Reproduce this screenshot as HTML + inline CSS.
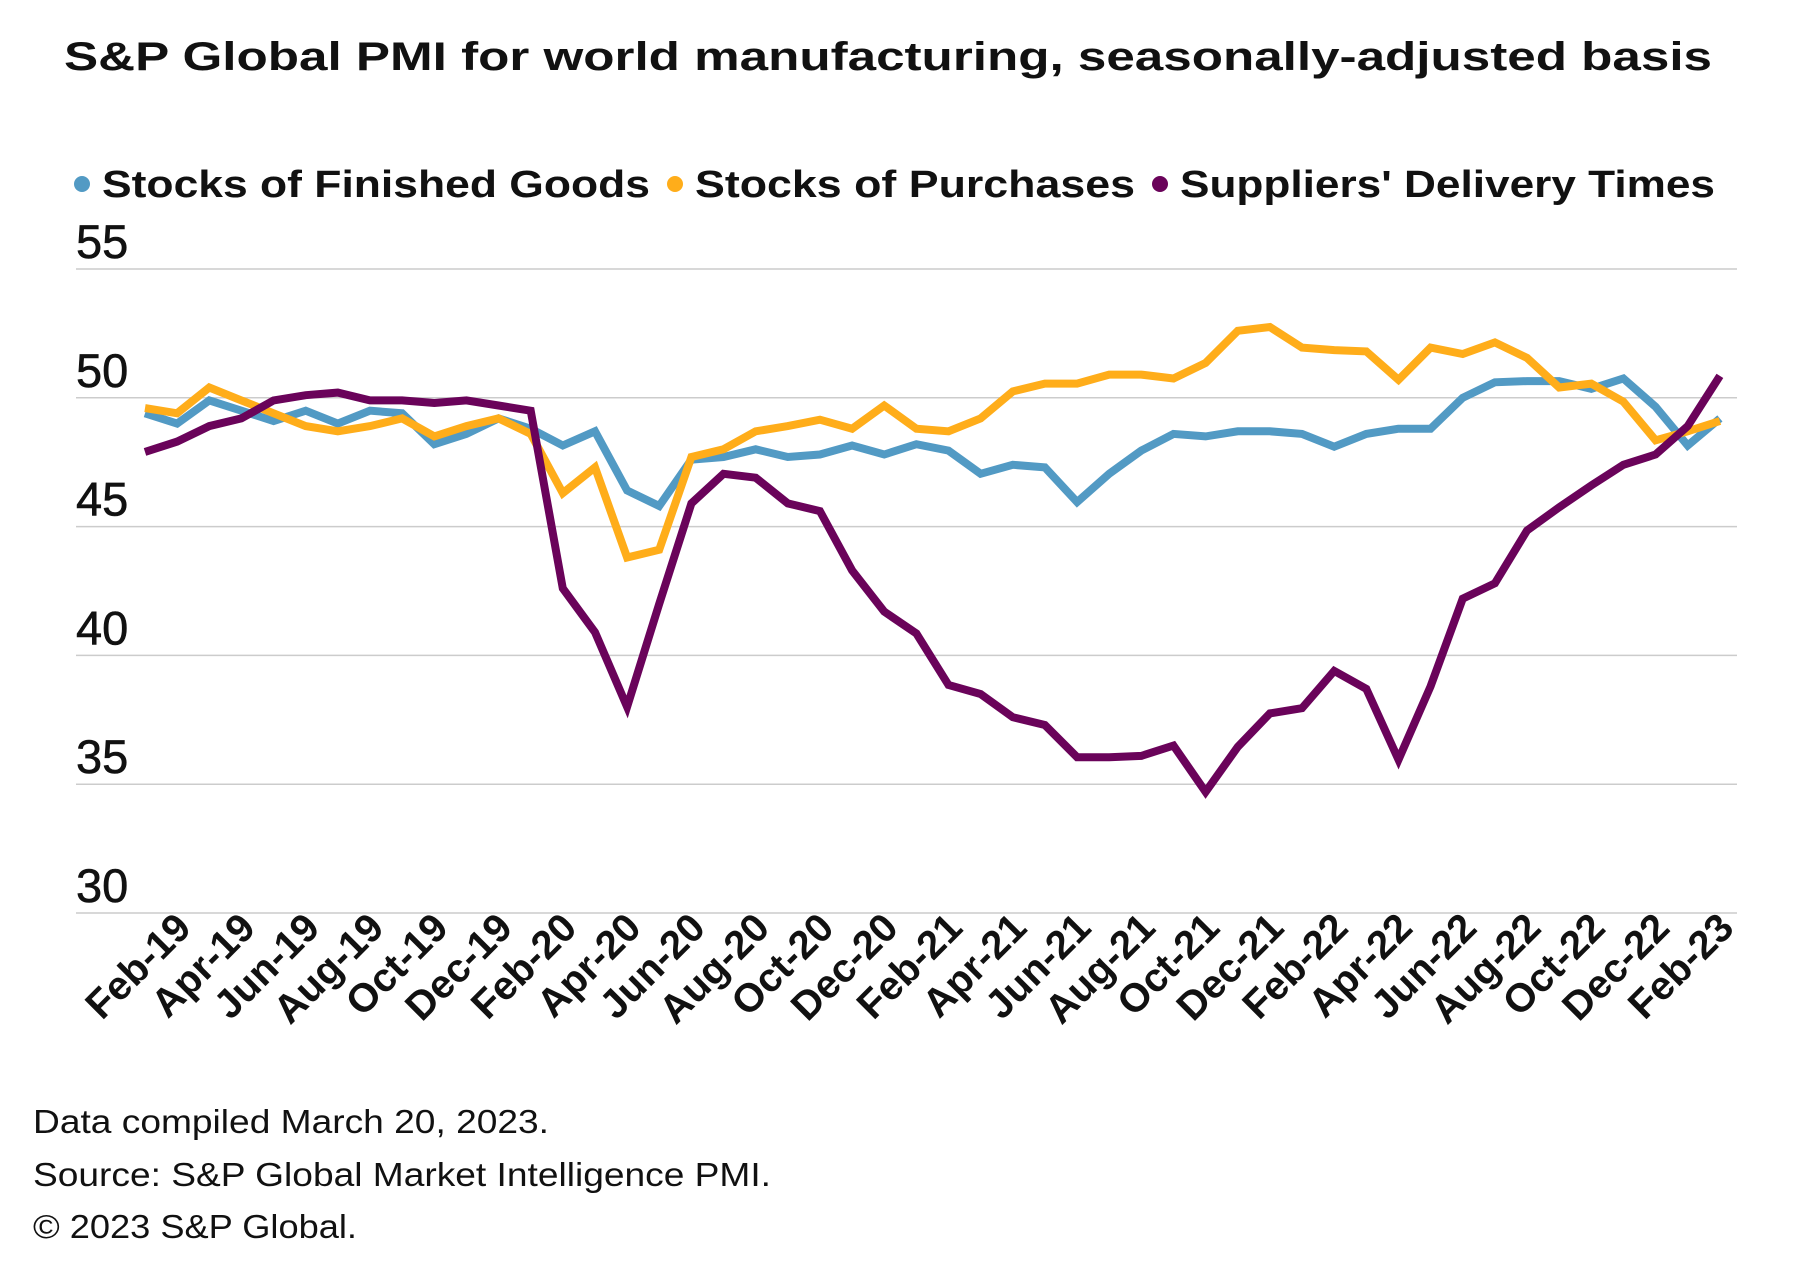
<!DOCTYPE html>
<html><head><meta charset="utf-8"><style>
html,body{margin:0;padding:0;background:#fff;}
svg{display:block;font-family:"Liberation Sans",sans-serif;}
</style></head><body>
<svg id="chart" width="1811" height="1278" viewBox="0 0 1811 1278">
<text x="64" y="70" font-size="40" font-weight="bold" fill="#111" textLength="1648" lengthAdjust="spacingAndGlyphs">S&amp;P Global PMI for world manufacturing, seasonally-adjusted basis</text>
<g>
<g><circle cx="82" cy="184" r="8" fill="#529ac4"/><text x="102" y="197" font-size="38" font-weight="bold" fill="#111" textLength="548" lengthAdjust="spacingAndGlyphs">Stocks of Finished Goods</text></g>
<g><circle cx="675" cy="184" r="8" fill="#ffad1a"/><text x="695" y="197" font-size="38" font-weight="bold" fill="#111" textLength="440" lengthAdjust="spacingAndGlyphs">Stocks of Purchases</text></g>
<g><circle cx="1160" cy="184" r="8" fill="#6a035a"/><text x="1180" y="197" font-size="38" font-weight="bold" fill="#111" textLength="535" lengthAdjust="spacingAndGlyphs">Suppliers' Delivery Times</text></g>
</g>
<g id="grid"></g>
<g id="yaxis"></g>
<g id="xaxis"></g>
<g id="series"></g>
<g font-size="33" fill="#111">
<text x="33" y="1133" textLength="516" lengthAdjust="spacingAndGlyphs">Data compiled March 20, 2023.</text>
<text x="33" y="1186" textLength="738" lengthAdjust="spacingAndGlyphs">Source: S&amp;P Global Market Intelligence PMI.</text>
<text x="33" y="1238" textLength="324" lengthAdjust="spacingAndGlyphs">© 2023 S&amp;P Global.</text>
</g>
</svg>
<script>
const months = ["Jan-19","Feb-19","Mar-19","Apr-19","May-19","Jun-19","Jul-19","Aug-19","Sep-19","Oct-19","Nov-19","Dec-19","Jan-20","Feb-20","Mar-20","Apr-20","May-20","Jun-20","Jul-20","Aug-20","Sep-20","Oct-20","Nov-20","Dec-20","Jan-21","Feb-21","Mar-21","Apr-21","May-21","Jun-21","Jul-21","Aug-21","Sep-21","Oct-21","Nov-21","Dec-21","Jan-22","Feb-22","Mar-22","Apr-22","May-22","Jun-22","Jul-22","Aug-22","Sep-22","Oct-22","Nov-22","Dec-22","Jan-23","Feb-23"];
const finishedGoods = [49.4,49.0,49.9,49.5,49.1,49.5,49.0,49.5,49.4,48.2,48.6,49.2,48.8,48.15,48.7,46.4,45.8,47.6,47.7,48.0,47.7,47.8,48.15,47.8,48.2,47.95,47.05,47.4,47.3,45.95,47.05,47.95,48.6,48.5,48.7,48.7,48.6,48.1,48.6,48.8,48.8,50.0,50.6,50.65,50.65,50.35,50.75,49.65,48.15,49.2];
const purchases = [49.6,49.4,50.4,49.9,49.4,48.9,48.7,48.9,49.2,48.5,48.9,49.2,48.6,46.3,47.3,43.8,44.1,47.7,48.0,48.7,48.9,49.15,48.8,49.7,48.8,48.7,49.2,50.25,50.55,50.55,50.9,50.9,50.75,51.35,52.6,52.75,51.95,51.85,51.8,50.7,51.95,51.7,52.15,51.55,50.4,50.55,49.85,48.35,48.7,49.1];
const deliveryTimes = [47.9,48.3,48.9,49.2,49.9,50.1,50.2,49.9,49.9,49.8,49.9,49.7,49.5,42.6,40.9,38.0,42.0,45.9,47.05,46.9,45.9,45.6,43.3,41.7,40.85,38.85,38.5,37.6,37.3,36.05,36.05,36.1,36.5,34.7,36.45,37.75,37.95,39.4,38.7,35.95,38.8,42.2,42.8,44.85,45.75,46.6,47.4,47.8,48.9,50.85];
const yTicks = [30,35,40,45,50,55];

const NS="http://www.w3.org/2000/svg";
const X0=145, DX=32.14, Y55=269, Y30=913, PL=76, PR=1737;
function xs(i){return X0+i*DX;}
function ys(v){return Y30-(v-30)*(Y30-Y55)/25;}
function mk(tag,attrs,parent){const e=document.createElementNS(NS,tag);for(const k in attrs)e.setAttribute(k,attrs[k]);parent.appendChild(e);return e;}
const grid=document.getElementById('grid'), yax=document.getElementById('yaxis'), xax=document.getElementById('xaxis'), ser=document.getElementById('series');
yTicks.forEach(t=>{
  const l=mk('line',{x1:PL,x2:PR,y1:ys(t),y2:ys(t),stroke:'#cccccc','stroke-width':1.5},grid);
  
  
  const tx=mk('text',{x:PL,y:ys(t)-11,'font-size':47,fill:'#111',stroke:'#111','stroke-width':0.6},yax);
  tx.textContent=t;
  
  
});
months.forEach((m,i)=>{
  if(i%2!==1)return;
  const x=xs(i)+16, y=930;
  const tx=mk('text',{x:x,y:y,'font-size':40,'font-weight':'bold',fill:'#111','text-anchor':'end',transform:'rotate(-45 '+x+' '+y+')'},xax);
  tx.textContent=m;
  
  
});
[[finishedGoods,'#529ac4','line-finished-goods'],[purchases,'#ffad1a','line-purchases'],[deliveryTimes,'#6a035a','line-delivery-times']].forEach(s=>{
  const pts=s[0].map((v,i)=>xs(i).toFixed(1)+','+ys(v).toFixed(1)).join(' ');
  const p=mk('polyline',{points:pts,fill:'none',stroke:s[1],'stroke-width':8,'stroke-linejoin':'miter','stroke-miterlimit':4},ser);
  
  
});
</script>
</body></html>
